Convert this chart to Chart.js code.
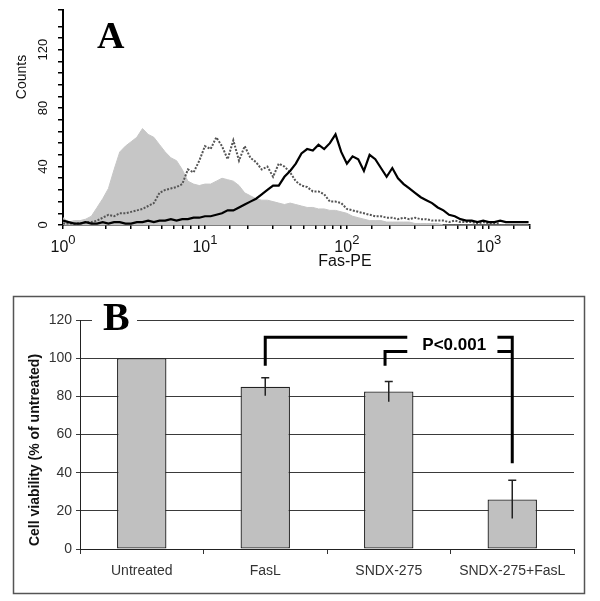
<!DOCTYPE html>
<html>
<head>
<meta charset="utf-8">
<script src="https://cdn.jsdelivr.net/npm/chart.js@4.4.1/dist/chart.umd.min.js"></script>
<style>
  body { margin: 0; background: #fff; }
  canvas { display: block; }
</style>
</head>
<body>
<canvas id="histChart" width="600" height="270"></canvas>
<canvas id="barChart" width="600" height="331"></canvas>
<script>
// ---- Panel A: Fas-PE histograms (counts per log bin, 25 bins per decade) ----
const BINS_PER_DECADE = 25;
const controlCounts = [5, 2, 3, 3, 4, 6, 12, 18, 25, 38, 50, 54, 57, 60, 66, 62, 60, 55, 50, 46,
  44, 38, 30, 28, 27, 28, 28, 30, 32, 31, 30, 27, 22, 20, 18, 17, 17, 16, 15, 14,
  15, 14, 13, 12, 12, 11, 11, 10, 10, 9, 8, 6, 5, 4, 3, 3, 3, 2, 2, 2,
  2, 2, 1, 1, 1, 1, 1, 0, 0, 0, 0, 0, 0, 0, 0, 0, 0, 0, 0, 0, 0, 0, 0];
const dottedCounts = [1, 1, 1, 1, 2, 2, 3, 5, 7, 6, 8, 8, 9, 10, 11, 13, 15, 22, 24, 25,
  26, 28, 38, 36, 44, 54, 52, 60, 54, 45, 58, 44, 54, 46, 43, 38, 40, 33, 42, 40,
  36, 30, 27, 26, 23, 23, 21, 16, 16, 15, 11, 10, 9, 8, 7, 6, 6, 5, 5, 4,
  5, 4, 5, 4, 4, 3, 3, 3, 2, 3, 2, 2, 2, 1, 2, 1, 1, 1];
const solidCounts = [3, 2, 1, 1, 2, 1, 1, 2, 1, 2, 2, 1, 1, 2, 2, 3, 2, 3, 3, 4,
  3, 4, 4, 5, 5, 6, 6, 7, 8, 10, 10, 12, 14, 16, 18, 21, 24, 27, 27, 33,
  37, 42, 49, 52, 51, 55, 52, 56, 62, 50, 42, 47, 45, 37, 48, 45, 39, 33, 39, 32,
  28, 25, 22, 19, 17, 15, 12, 10, 7, 6, 4, 3, 3, 2, 3, 2, 2, 3, 2, 2, 2, 2, 2];
const countTickLabels = [0, 40, 80, 120];
const decadeTicks = [1, 10, 100, 1000];
const decadeExponents = ['0', '1', '2', '3'];

// bin centres of the cytometer's log channel scale
const channels = solidCounts.map((_, i) => 10 ** (i / BINS_PER_DECADE));

// ---- Panel B: cell viability ----
const treatments = ['Untreated', 'FasL', 'SNDX-275', 'SNDX-275+FasL'];
const viability = [100, 85, 82.5, 26];
const viabilityErr = [0, 4.7, 5.3, 10];
const viabilityTicks = [0, 20, 40, 60, 80, 100, 120];

const SANS = 'Arial, "Liberation Sans", sans-serif';
const SERIF = '"Times New Roman", "Liberation Serif", serif';
Chart.defaults.font.family = SANS;

const panelAText = {
  id: 'panelAText',
  afterDraw(chart) {
    const { ctx, scales: { x, y } } = chart;
    ctx.save();
    ctx.fillStyle = '#111';

    // rotated count labels
    ctx.font = '13px ' + SANS;
    ctx.textAlign = 'center';
    ctx.textBaseline = 'middle';
    countTickLabels.forEach(v => {
      ctx.save();
      ctx.translate(43, y.getPixelForValue(v));
      ctx.rotate(-Math.PI / 2);
      ctx.fillText(String(v), 0, 0);
      ctx.restore();
    });

    // Counts title
    ctx.font = '14px ' + SANS;
    ctx.save();
    ctx.translate(22, 77);
    ctx.rotate(-Math.PI / 2);
    ctx.fillText('Counts', 0, 0);
    ctx.restore();

    // 10^n labels
    ctx.textAlign = 'left';
    ctx.textBaseline = 'alphabetic';
    decadeTicks.forEach((v, i) => {
      const px = x.getPixelForValue(v);
      ctx.font = '16px ' + SANS;
      const w1 = ctx.measureText('10').width;
      ctx.font = '13px ' + SANS;
      const w2 = ctx.measureText(decadeExponents[i]).width;
      const left = px - (w1 + w2) / 2;
      ctx.font = '16px ' + SANS;
      ctx.fillText('10', left, 252);
      ctx.font = '13px ' + SANS;
      ctx.fillText(decadeExponents[i], left + w1, 244);
    });

    ctx.font = '16px ' + SANS;
    ctx.textAlign = 'center';
    ctx.fillText('Fas-PE', 345, 266);

    ctx.font = 'bold 38px ' + SERIF;
    ctx.textAlign = 'left';
    ctx.fillStyle = '#000';
    ctx.fillText('A', 97, 48);
    ctx.restore();
  }
};

new Chart(document.getElementById('histChart'), {
  type: 'line',
  data: {
    labels: channels,
    datasets: [
      {
        data: solidCounts,
        borderColor: '#000',
        borderWidth: 2.2,
        pointRadius: 0,
        fill: false
      },
      {
        data: dottedCounts,
        borderColor: '#555',
        borderWidth: 2,
        borderDash: [2, 1.5],
        pointRadius: 0,
        fill: false
      },
      {
        data: controlCounts,
        borderColor: '#c6c6c6',
        borderWidth: 1,
        backgroundColor: '#c6c6c6',
        pointRadius: 0,
        fill: 'origin'
      }
    ]
  },
  options: {
    responsive: false,
    animation: false,
    layout: { padding: { top: 5, right: 70, left: 0, bottom: 0 } },
    plugins: { legend: { display: false }, tooltip: { enabled: false } },
    scales: {
      x: {
        type: 'logarithmic',
        min: 1,
        max: 1950,
        grid: { drawOnChartArea: false, tickLength: 4, color: '#000', lineWidth: 1.5 },
        border: { color: '#000', width: 1.5 },
        ticks: { autoSkip: false, maxRotation: 0, callback: () => '' },
        afterFit(s) { s.height = 45; }
      },
      y: {
        min: 0,
        max: 147,
        grid: { drawOnChartArea: false, tickLength: 5, color: '#000', lineWidth: 1.5 },
        border: { color: '#000', width: 2 },
        ticks: { stepSize: 8, autoSkip: false, callback: () => '' },
        afterFit(s) { s.width = 63; }
      }
    }
  },
  plugins: [panelAText]
});

const panelBDecor = {
  id: 'panelBDecor',
  beforeDraw(chart) {
    const ctx = chart.ctx;
    ctx.save();
    ctx.strokeStyle = '#555';
    ctx.lineWidth = 1.5;
    ctx.strokeRect(13.5, 26.5, 571, 297);
    ctx.restore();
  },
  afterDatasetsDraw(chart) {
    const { ctx, scales: { x, y } } = chart;
    const meta = chart.getDatasetMeta(0);
    ctx.save();
    ctx.strokeStyle = '#222';
    ctx.lineWidth = 1.5;
    viabilityErr.forEach((e, i) => {
      if (!e) return;
      const px = meta.data[i].x;
      const top = y.getPixelForValue(viability[i] + e);
      const bot = y.getPixelForValue(viability[i] - e);
      ctx.beginPath();
      ctx.moveTo(px, bot);
      ctx.lineTo(px, top);
      ctx.moveTo(px - 4, top);
      ctx.lineTo(px + 4, top);
      ctx.stroke();
    });
    ctx.restore();
  },
  afterDraw(chart) {
    const { ctx, scales: { x, y } } = chart;
    ctx.save();

    // "B" label over the top gridline
    ctx.fillStyle = '#fff';
    ctx.fillRect(92, 32, 45, 32);
    ctx.fillStyle = '#000';
    ctx.font = 'bold 40px ' + SERIF;
    ctx.textAlign = 'left';
    ctx.textBaseline = 'alphabetic';
    ctx.fillText('B', 103, 60);

    // significance brackets
    const X = v => x.getPixelForValue(v);
    const Y = v => y.getPixelForValue(v);
    ctx.strokeStyle = '#000';
    ctx.lineWidth = 3;
    ctx.lineJoin = 'miter';
    ctx.beginPath();
    ctx.moveTo(X(1), Y(96)); ctx.lineTo(X(1), Y(111)); ctx.lineTo(X(2.15), Y(111));
    ctx.moveTo(X(1.97), Y(96)); ctx.lineTo(X(1.97), Y(103.5)); ctx.lineTo(X(2.15), Y(103.5));
    ctx.moveTo(X(2.88), Y(111)); ctx.lineTo(X(3), Y(111)); ctx.lineTo(X(3), Y(45));
    ctx.moveTo(X(2.88), Y(103.5)); ctx.lineTo(X(3), Y(103.5));
    ctx.stroke();

    ctx.font = 'bold 17px ' + SANS;
    ctx.textAlign = 'center';
    ctx.textBaseline = 'middle';
    ctx.fillText('P<0.001', X(2.53), Y(106.6));

    // y axis title
    ctx.font = 'bold 14px ' + SANS;
    ctx.fillStyle = '#111';
    ctx.translate(35, 180);
    ctx.rotate(-Math.PI / 2);
    ctx.fillText('Cell viability (% of untreated)', 0, 0);
    ctx.restore();
  }
};

new Chart(document.getElementById('barChart'), {
  type: 'bar',
  data: {
    labels: treatments,
    datasets: [{
      data: viability,
      backgroundColor: '#c0c0c0',
      borderColor: '#222',
      borderWidth: 1.3,
      borderSkipped: false,
      barPercentage: 0.4,
      categoryPercentage: 1
    }]
  },
  options: {
    responsive: false,
    animation: false,
    layout: { padding: { top: 50, right: 26, left: 0, bottom: 0 } },
    plugins: { legend: { display: false }, tooltip: { enabled: false } },
    scales: {
      x: {
        grid: { drawOnChartArea: false, tickLength: 5, color: '#333' },
        border: { color: '#222' },
        ticks: { color: '#333', font: { size: 14 }, padding: 9 },
        afterFit(s) { s.height = 52; }
      },
      y: {
        min: 0,
        max: 120,
        afterBuildTicks(s) { s.ticks = viabilityTicks.map(v => ({ value: v })); },
        grid: { color: '#3a3a3a', tickLength: 4 },
        border: { color: '#222' },
        ticks: { color: '#333', font: { size: 14 }, padding: 4 },
        afterFit(s) { s.width = 80; }
      }
    }
  },
  plugins: [panelBDecor]
});
</script>
</body>
</html>
